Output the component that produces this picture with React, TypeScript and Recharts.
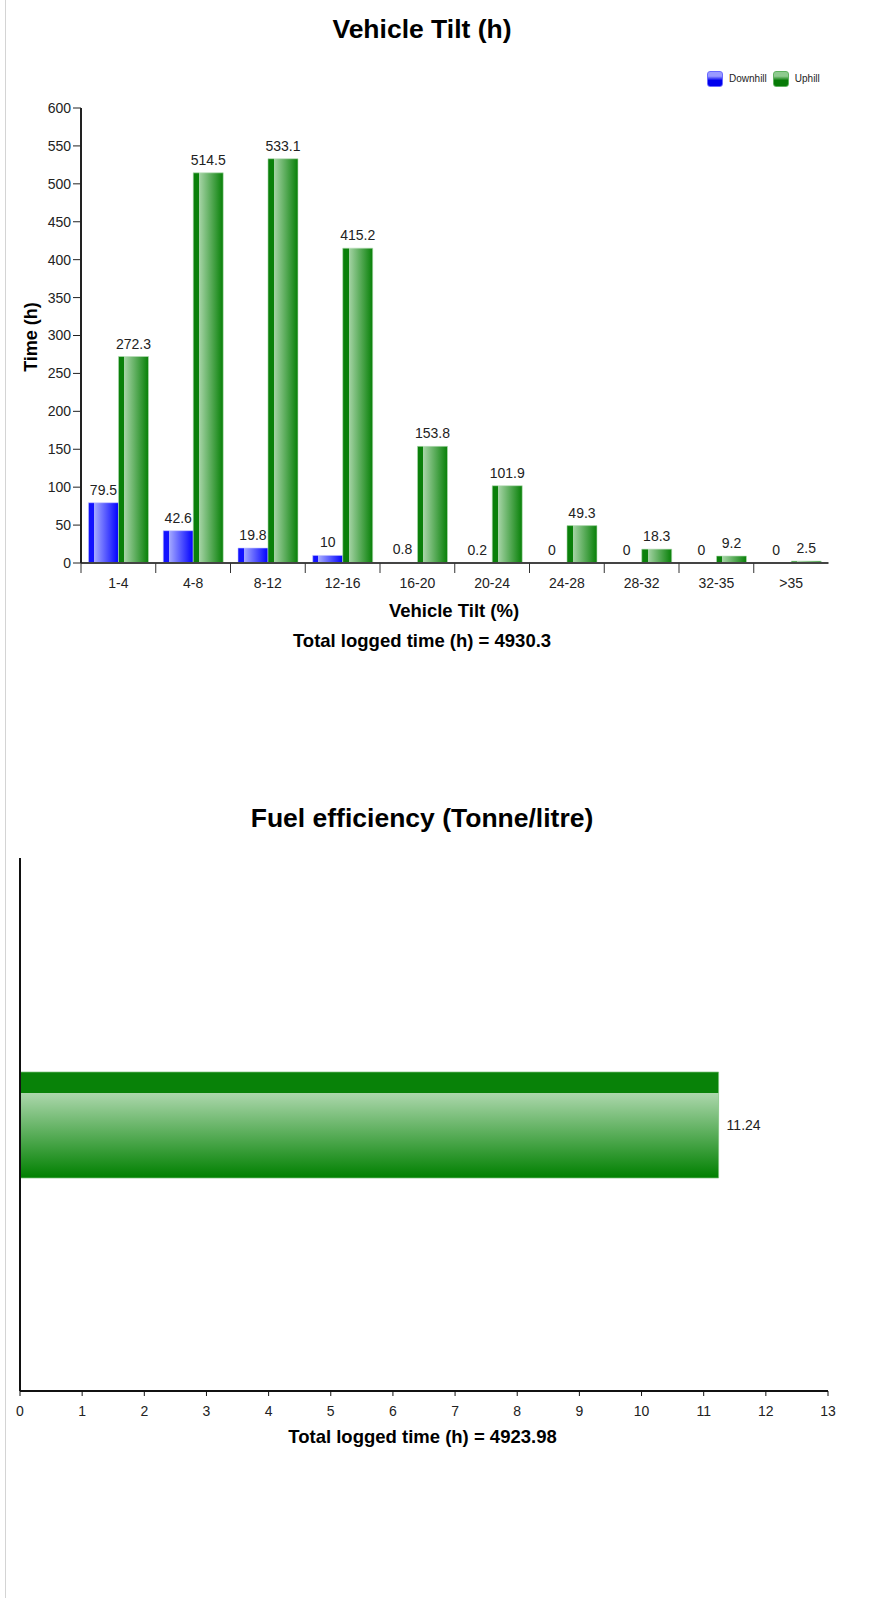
import React from 'react';
import { BarChart, Bar, XAxis, YAxis, LabelList } from 'recharts';

const tiltCategories = ['1-4', '4-8', '8-12', '12-16', '16-20', '20-24', '24-28', '28-32', '32-35', '>35'];
const downhillHours = [79.5, 42.6, 19.8, 10, 0.8, 0.2, 0, 0, 0, 0];
const uphillHours = [272.3, 514.5, 533.1, 415.2, 153.8, 101.9, 49.3, 18.3, 9.2, 2.5];
const timeTicks = [0, 50, 100, 150, 200, 250, 300, 350, 400, 450, 500, 550, 600];

const fuelCategories = ['Fuel efficiency'];
const fuelValues = [11.24];
const fuelTicks = [0, 1, 2, 3, 4, 5, 6, 7, 8, 9, 10, 11, 12, 13];

const tiltData = tiltCategories.map((range, i) => ({
  range,
  downhill: downhillHours[i],
  uphill: uphillHours[i],
}));
const fuelData = fuelCategories.map((name, i) => ({ name, value: fuelValues[i] }));

const FONT = 'Arial, "Liberation Sans", sans-serif';
const CHART_W = 886;
const TILT_LEFT = 81;
const TILT_RIGHT = 57.5;
const BAND = (CHART_W - TILT_LEFT - TILT_RIGHT) / tiltCategories.length;

function TiltTick(props: any) {
  const { x, y, payload } = props;
  const bx = x - BAND / 2;
  return (
    <g>
      <line x1={bx} y1={y} x2={bx} y2={y + 10} stroke="#333" strokeWidth={1} />
      <text x={x} y={y + 20.5} dy="0.355em" textAnchor="middle" fontSize={14} fill="#222" fontFamily={FONT}>
        {payload.value}
      </text>
    </g>
  );
}

const legendItems = [
  { name: 'Downhill', light: '#9a9aff', dark: '#0000ee', border: '#6a6aff' },
  { name: 'Uphill', light: '#8fca8f', dark: '#077a07', border: '#5fb25f' },
];

function Legend() {
  return (
    <div style={{ position: 'absolute', left: 707, top: 70.5, display: 'flex', alignItems: 'center', fontSize: 10, color: '#222', fontFamily: FONT }}>
      {legendItems.map((it) => (
        <div key={it.name} style={{ display: 'flex', alignItems: 'center', marginRight: 6 }}>
          <div
            style={{
              width: 14,
              height: 14,
              borderRadius: 3,
              border: `1px solid ${it.border}`,
              background: `linear-gradient(${it.light} 0%, ${it.light} 30%, ${it.dark} 60%, ${it.dark} 100%)`,
              marginRight: 6,
            }}
          />
          <span>{it.name}</span>
        </div>
      ))}
    </div>
  );
}

const textBase: React.CSSProperties = {
  position: 'absolute',
  fontFamily: FONT,
  fontWeight: 'bold',
  lineHeight: 1,
  whiteSpace: 'nowrap',
  color: '#000',
  transform: 'translateX(-50%)',
};

export default function App() {
  return (
    <div style={{ position: 'absolute', left: 0, top: 0, width: 886, height: 1598, background: '#fff', overflow: 'hidden', fontFamily: FONT }}>
      <div style={{ position: 'absolute', left: 5, top: 0, width: 1, height: 1598, background: '#d4d4d4' }} />

      {/* Vehicle tilt */}
      <div style={{ ...textBase, left: 422, top: 15.75, fontSize: 26.5 }}>Vehicle Tilt (h)</div>
      <Legend />
      <div style={{ position: 'absolute', left: 0, top: 0 }}>
        <BarChart
          width={CHART_W}
          height={660}
          data={tiltData}
          margin={{ top: 108, right: TILT_RIGHT, bottom: 57, left: 0 }}
          barCategoryGap="10%"
          barGap={0}
        >
          <defs>
            <linearGradient id="gradDown" x1="0" y1="0" x2="1" y2="0">
              <stop offset="0" stopColor="#1212ff" />
              <stop offset="0.19" stopColor="#1212ff" />
              <stop offset="0.19" stopColor="#a6abff" />
              <stop offset="1" stopColor="#0000ff" />
            </linearGradient>
            <linearGradient id="gradUp" x1="0" y1="0" x2="1" y2="0">
              <stop offset="0" stopColor="#0a800a" />
              <stop offset="0.2" stopColor="#0a800a" />
              <stop offset="0.2" stopColor="#a6d4a6" />
              <stop offset="1" stopColor="#078007" />
            </linearGradient>
          </defs>
          <XAxis
            dataKey="range"
            height={40}
            interval={0}
            tickLine={false}
            tickSize={0}
            tickMargin={0}
            axisLine={{ stroke: '#444', strokeWidth: 2 }}
            tick={(p: any) => <TiltTick {...p} />}
          />
          <YAxis
            width={TILT_LEFT}
            domain={[0, 600]}
            ticks={timeTicks}
            interval={0}
            tickSize={8}
            tickMargin={2}
            axisLine={{ stroke: '#222', strokeWidth: 2 }}
            tickLine={{ stroke: '#222' }}
            tick={{ fontSize: 14, fill: '#222', fontFamily: FONT }}
          />
          <Bar
            dataKey="downhill"
            name="Downhill"
            fill="url(#gradDown)"
            stroke="#c4c6ff"
            strokeOpacity={0.6}
            minPointSize={0.01}
            isAnimationActive={false}
          >
            <LabelList dataKey="downhill" position="top" offset={8} fontSize={14} fill="#222" fontFamily={FONT} />
          </Bar>
          <Bar dataKey="uphill" name="Uphill" fill="url(#gradUp)" stroke="#b8deb8" strokeOpacity={0.6} isAnimationActive={false}>
            <LabelList dataKey="uphill" position="top" offset={8} fontSize={14} fill="#222" fontFamily={FONT} />
          </Bar>
        </BarChart>
      </div>
      <div
        style={{
          position: 'absolute',
          left: 30.6,
          top: 336.5,
          fontFamily: FONT,
          fontWeight: 'bold',
          fontSize: 18,
          lineHeight: 1,
          whiteSpace: 'nowrap',
          transform: 'translate(-50%, -50%) rotate(-90deg)',
        }}
      >
        Time (h)
      </div>
      <div style={{ ...textBase, left: 454, top: 602, fontSize: 18.5 }}>Vehicle Tilt (%)</div>
      <div style={{ ...textBase, left: 422, top: 632, fontSize: 18.5 }}>Total logged time (h) = 4930.3</div>

      {/* Fuel efficiency */}
      <div style={{ ...textBase, left: 422, top: 804.75, fontSize: 26.5 }}>Fuel efficiency (Tonne/litre)</div>
      <div style={{ position: 'absolute', left: 0, top: 779 }}>
        <BarChart
          layout="vertical"
          width={CHART_W}
          height={680}
          data={fuelData}
          margin={{ top: 79, right: 58, bottom: 28, left: 0 }}
        >
          <defs>
            <linearGradient id="gradFuel" x1="0" y1="0" x2="0" y2="1">
              <stop offset="0" stopColor="#088208" />
              <stop offset="0.2" stopColor="#088208" />
              <stop offset="0.2" stopColor="#acd7ac" />
              <stop offset="1" stopColor="#008000" />
            </linearGradient>
          </defs>
          <XAxis
            type="number"
            domain={[0, 13]}
            ticks={fuelTicks}
            interval={0}
            height={40}
            tickSize={5}
            tickMargin={10}
            axisLine={{ stroke: '#111', strokeWidth: 2 }}
            tickLine={{ stroke: '#111' }}
            tick={{ fontSize: 14, fill: '#222', fontFamily: FONT }}
          />
          <YAxis
            type="category"
            dataKey="name"
            width={20}
            tick={false}
            tickLine={false}
            axisLine={{ stroke: '#111', strokeWidth: 2 }}
          />
          <Bar dataKey="value" barSize={106} fill="url(#gradFuel)" stroke="#7cc27c" strokeOpacity={0.7} isAnimationActive={false}>
            <LabelList dataKey="value" position="right" offset={8} fontSize={14} fill="#222" fontFamily={FONT} />
          </Bar>
        </BarChart>
      </div>
      <div style={{ ...textBase, left: 422.5, top: 1428, fontSize: 18.5 }}>Total logged time (h) = 4923.98</div>
    </div>
  );
}
